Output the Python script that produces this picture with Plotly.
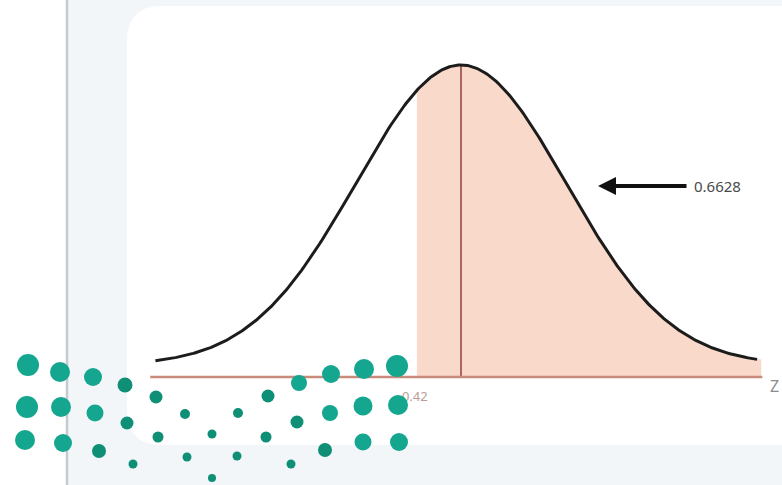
import numpy as np
import plotly.graph_objects as go

# ---- data ----
z_cut = -0.42            # boundary of shaded area
area_label = "0.6628"    # shaded area P(Z > -0.42)
cut_label = "-0.42"
axis_label = "Z"
curve_z_min, curve_z_max = -2.91, 2.82
axis_z_min, axis_z_max = -2.96, 2.87

z = np.linspace(curve_z_min, curve_z_max, 400)
pdf = np.exp(-z ** 2 / 2) / np.sqrt(2 * np.pi)

# ---- layout constants ----
W, H = 782, 485
PX_PER_Z = 105.0
MEAN_PX = 461.0
PX_PER_PDF = 752.0
BASE_PX = 365.0
AXIS_Y = -0.016

xr = [-MEAN_PX / PX_PER_Z, (W - MEAN_PX) / PX_PER_Z]
yr = [(BASE_PX - H) / PX_PER_PDF, BASE_PX / PX_PER_PDF]

def px(xp):
    return xp / W

def py(yp):
    return (H - yp) / H

fig = go.Figure()

# shaded area
mask = z >= z_cut
zs = np.concatenate([[z_cut], z[mask], [curve_z_max + 0.04, curve_z_max + 0.04, z_cut]])
ys = np.concatenate([[np.exp(-z_cut ** 2 / 2) / np.sqrt(2 * np.pi)], pdf[mask],
                     [pdf[-1], AXIS_Y, AXIS_Y]])
fig.add_trace(go.Scatter(x=zs, y=ys, fill="toself", fillcolor="#f8d9ca",
                         line=dict(width=0), mode="lines", hoverinfo="skip"))

# mean line
fig.add_trace(go.Scatter(x=[0, 0], y=[AXIS_Y, pdf.max()], mode="lines",
                         line=dict(color="#a9655e", width=2), hoverinfo="skip"))
# horizontal axis
fig.add_trace(go.Scatter(x=[axis_z_min, axis_z_max], y=[AXIS_Y, AXIS_Y], mode="lines",
                         line=dict(color="#c98b7e", width=2.5), hoverinfo="skip"))
# normal curve
fig.add_trace(go.Scatter(x=z, y=pdf, mode="lines",
                         line=dict(color="#1c1c1c", width=3), hoverinfo="skip"))
# cut label (as trace text so decoration can overlap it)
fig.add_trace(go.Scatter(x=[z_cut - 0.04], y=[AXIS_Y - 0.027], mode="text", text=[cut_label],
                         textfont=dict(family="Noto Sans", size=13, color="#bb9c96"),
                         hoverinfo="skip"))

# decorative teal dots (pixel coordinates, overlay axis)
dot_px_x = [28, 60, 93, 125, 156, 185, 212, 238, 268, 299, 331, 364, 397,
            27, 61, 95, 127, 158, 187, 212, 237, 266, 297, 330, 363, 398,
            25, 63, 99, 133, 291, 325, 363, 399]
dot_px_y = [365, 372, 377, 385, 397, 414, 434, 413, 396, 383, 374, 369, 366,
            407, 407, 413, 423, 437, 457, 478, 456, 437, 422, 413, 406, 405,
            440, 443, 451, 464, 464, 450, 442, 442]
dot_size = [22, 20, 18, 15, 13, 10, 9, 10, 13, 16, 18, 20, 22,
            22, 20, 17, 13, 11, 9, 8, 9, 11, 13, 16, 19, 20,
            20, 18, 14, 9, 9, 14, 17, 18]
dot_col = ["#14a68f" if s >= 16 else "#0f8f76" for s in dot_size]
fig.add_trace(go.Scatter(x=dot_px_x, y=dot_px_y, mode="markers", xaxis="x2", yaxis="y2",
                         marker=dict(size=dot_size, color=dot_col, opacity=1,
                                     line=dict(width=0)),
                         hoverinfo="skip"))

# background shapes
r = 35
x0, y0, y1, x1 = 127, 6, 445, 800
panel = (f"M {px(x0)},{py(y0 + r)} Q {px(x0)},{py(y0)} {px(x0 + r)},{py(y0)} "
         f"L {px(x1)},{py(y0)} L {px(x1)},{py(y1)} L {px(x0 + r)},{py(y1)} "
         f"Q {px(x0)},{py(y1)} {px(x0)},{py(y1 - r)} Z")
shapes = [
    dict(type="rect", xref="paper", yref="paper", x0=0, x1=px(66), y0=0, y1=1,
         fillcolor="#ffffff", line=dict(width=0), layer="below"),
    dict(type="path", xref="paper", yref="paper", path=panel,
         fillcolor="#ffffff", line=dict(width=0), layer="below"),
    dict(type="line", xref="paper", yref="paper", x0=px(67), x1=px(67), y0=0, y1=1,
         line=dict(color="#c6cace", width=2.5), layer="below"),
]

annotations = [
    dict(x=(598 - MEAN_PX) / PX_PER_Z, y=(BASE_PX - 186) / PX_PER_PDF, xref="x", yref="y",
         ax=90, ay=0, text="", showarrow=True,
         arrowhead=2, arrowsize=0.9, arrowwidth=4, arrowcolor="#111111"),
    dict(x=px(692), y=py(186), xref="paper", yref="paper", text=area_label, showarrow=False,
         xanchor="left", yanchor="middle",
         font=dict(family="Noto Sans", size=15, color="#4a4a4a")),
    dict(x=px(768), y=py(386), xref="paper", yref="paper", text=axis_label, showarrow=False,
         xanchor="left", yanchor="middle",
         font=dict(family="Noto Sans", size=16, color="#8c8c8c")),
]

fig.update_layout(
    width=W, height=H,
    margin=dict(l=0, r=0, t=0, b=0),
    paper_bgcolor="#f3f6f9", plot_bgcolor="rgba(0,0,0,0)",
    showlegend=False,
    xaxis=dict(range=xr, visible=False, fixedrange=True),
    yaxis=dict(range=yr, visible=False, fixedrange=True),
    xaxis2=dict(range=[0, W], visible=False, overlaying="x", fixedrange=True),
    yaxis2=dict(range=[H, 0], visible=False, overlaying="y", fixedrange=True),
    shapes=shapes,
    annotations=annotations,
)

fig.write_html("out.html", config={"displayModeBar": False},
               post_script="document.body.style.margin='0';document.body.style.padding='0';")
